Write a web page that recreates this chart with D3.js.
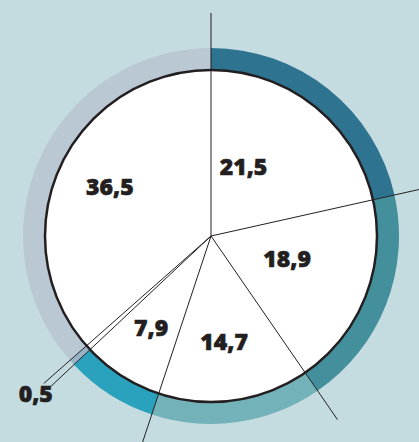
<!DOCTYPE html>
<html>
<head>
<meta charset="UTF-8">
<script src="https://d3js.org/d3.v7.min.js"></script>
<style>
  body { margin: 0; background: #c4dce0; }
  svg { display: block; }
</style>
</head>
<body>
<div class="chart"></div>
<script>
// shares in percent, clockwise from 12 o'clock
var labels = ["21,5", "18,9", "14,7", "7,9", "0,5", "36,5"];
var values = [21.5, 18.9, 14.7, 7.9, 0.5, 36.5];
var ringColors = ["#2e7390", "#43909c", "#74b2b9", "#2aa1bd", "#98b3c6", "#bac8d4"];

var width = 419, height = 442;
var cx = 211, cy = 236;
var rInner = 166, rOuter = 188, rLine = 223;

// label placement: radius of the anchor arc + small nudges
var labelRadius = [100, 100, 100, 100, 237, 100];
var nudge = [[-30, 9], [-17, -14], [-1, 7], [-6, 7], [0, -2], [-10, -8]];

var svg = d3.select(".chart").append("svg")
  .attr("width", width)
  .attr("height", height);

svg.append("rect")
  .attr("width", width)
  .attr("height", height)
  .attr("fill", "#c4dce0");

var g = svg.append("g")
  .attr("transform", "translate(" + cx + "," + cy + ")");

var pie = d3.pie().sort(null).value(function(d) { return d; });
var arcs = pie(values);

var ring = d3.arc().innerRadius(rInner - 2).outerRadius(rOuter);

g.selectAll("path.ring")
  .data(arcs)
  .enter().append("path")
    .attr("class", "ring")
    .attr("d", ring)
    .attr("fill", function(d, i) { return ringColors[i]; });

g.append("circle")
  .attr("r", rInner)
  .attr("fill", "#fff")
  .attr("stroke", "#231f20")
  .attr("stroke-width", 2.5);

// spokes at each slice start
g.selectAll("line.spoke")
  .data(arcs)
  .enter().append("line")
    .attr("class", "spoke")
    .attr("x1", 0).attr("y1", 0)
    .attr("x2", function(d) { return rLine * Math.sin(d.startAngle); })
    .attr("y2", function(d) { return -rLine * Math.cos(d.startAngle); })
    .attr("stroke", "#231f20")
    .attr("stroke-width", 1);

g.selectAll("text.lbl")
  .data(arcs)
  .enter().append("text")
    .attr("class", "lbl")
    .attr("transform", function(d, i) {
      var c = d3.arc().innerRadius(labelRadius[i]).outerRadius(labelRadius[i]).centroid(d);
      return "translate(" + (c[0] + nudge[i][0]) + "," + (c[1] + nudge[i][1]) + ")";
    })
    .attr("text-anchor", "middle")
    .attr("dy", "0.36em")
    .attr("font-family", "'Open Sans', sans-serif")
    .attr("font-weight", 800)
    .attr("font-size", 23)
    .attr("fill", "#231f20")
    .attr("stroke", "#231f20")
    .attr("stroke-width", 0.6)
    .text(function(d, i) { return labels[i]; });
</script>
</body>
</html>
